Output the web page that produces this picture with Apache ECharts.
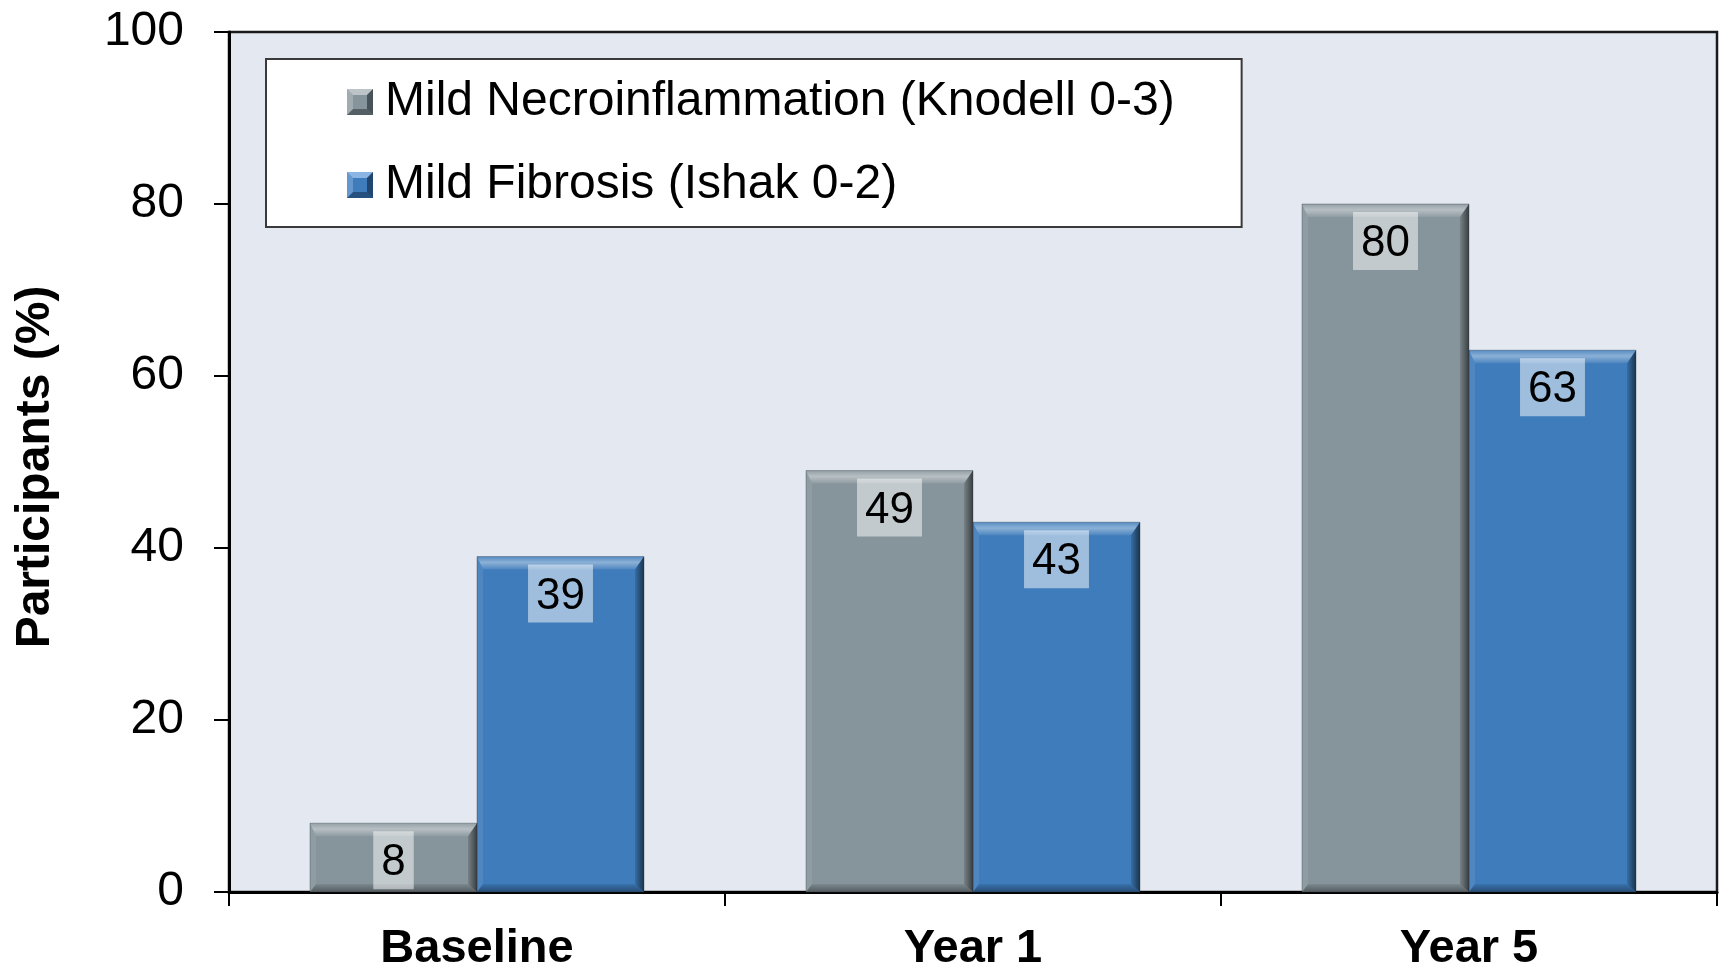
<!DOCTYPE html>
<html>
<head>
<meta charset="utf-8">
<title>Participants with mild necroinflammation and mild fibrosis</title>
<script src="https://cdn.jsdelivr.net/npm/echarts@6/dist/echarts.min.js"></script>
<style>
  html, body { margin: 0; padding: 0; background: #ffffff; }
  #chart { width: 1721px; height: 967px; }
</style>
</head>
<body>
<div id="chart"></div>
<script>
// Time points on the x axis
const categories = ['Baseline', 'Year 1', 'Year 5'];

// Share of participants (%) at each time point
const necroName = 'Mild Necroinflammation (Knodell 0-3)';
const necroValues = [8, 49, 80];
const fibrosisName = 'Mild Fibrosis (Ishak 0-2)';
const fibrosisValues = [39, 43, 63];

// Value axis range
const yMin = 0;
const yMax = 100;
const yStep = 20;

const FONT = "'Liberation Sans', Arial, Helvetica, sans-serif";
const BAR_W = 167;
const GRAY = '#86949b';
const BLUE = '#3e7cbb';

// Small bevelled square used as a legend swatch
function bevelIcon(base, light, dark) {
  const svg =
    '<svg xmlns="http://www.w3.org/2000/svg" width="26" height="26">' +
    '<rect width="26" height="26" fill="' + base + '"/>' +
    '<polygon points="0,0 26,0 20,6 6,6" fill="' + light + '"/>' +
    '<polygon points="26,0 26,26 20,20 20,6" fill="' + dark + '"/>' +
    '<polygon points="0,26 26,26 20,20 6,20" fill="' + dark + '" opacity="0.8"/>' +
    '<polygon points="0,0 6,6 6,20 0,26" fill="' + light + '" opacity="0.5"/>' +
    '</svg>';
  return 'image://data:image/svg+xml;charset=utf-8,' + encodeURIComponent(svg);
}

// Bevelled edges and value tag painted over each bar
function bevelRenderer(side) {
  return function (params, api) {
    const c = api.value(0);
    const v = api.value(1);
    const top = api.coord([c, v]);
    const base = api.coord([c, 0]);
    const x0 = side < 0 ? top[0] - BAR_W : top[0];
    const x1 = x0 + BAR_W;
    const y0 = top[1];
    const y1 = base[1];
    const T = 13, R = 9, B = 8, L = 6;
    const lin = (x, y, x2, y2, stops) => ({
      type: 'linear', x: x, y: y, x2: x2, y2: y2,
      colorStops: stops.map((s) => ({ offset: s[0], color: s[1] }))
    });
    return {
      type: 'group',
      children: [
        {
          type: 'polygon',
          shape: { points: [[x0, y0], [x1, y0], [x1 - R, y0 + T], [x0 + L, y0 + T]] },
          style: { fill: lin(0, 0, 0, 1, [[0, 'rgba(255,255,255,0.12)'], [0.45, 'rgba(255,255,255,0.40)'], [1, 'rgba(255,255,255,0.08)']]) }
        },
        {
          type: 'polygon',
          shape: { points: [[x0, y0], [x0 + L, y0 + T], [x0 + L, y1 - B], [x0, y1]] },
          style: { fill: 'rgba(255,255,255,0.08)' }
        },
        {
          type: 'polygon',
          shape: { points: [[x0, y1], [x1, y1], [x1 - R, y1 - B], [x0 + L, y1 - B]] },
          style: { fill: lin(0, 0, 0, 1, [[0, 'rgba(0,0,0,0.08)'], [1, 'rgba(0,0,0,0.38)']]) }
        },
        {
          type: 'polygon',
          shape: { points: [[x1, y0], [x1, y1], [x1 - R, y1 - B], [x1 - R, y0 + T]] },
          style: { fill: lin(0, 0, 1, 0, [[0, 'rgba(0,0,0,0.12)'], [1, 'rgba(0,0,0,0.58)']]) }
        },
        {
          type: 'rect',
          shape: { x: x0, y: y0, width: BAR_W, height: y1 - y0 },
          style: { fill: 'none', stroke: 'rgba(40,50,60,0.35)', lineWidth: 1 }
        },
        {
          type: 'text',
          style: {
            text: String(v),
            x: (x0 + x1) / 2,
            y: y0 + 8,
            align: 'center',
            verticalAlign: 'top',
            fontSize: 44,
            fontFamily: FONT,
            lineHeight: 46,
            fill: '#000000',
            backgroundColor: 'rgba(255,255,255,0.5)',
            padding: [9, 8, 3, 8]
          }
        }
      ]
    };
  };
}

const chart = echarts.init(document.getElementById('chart'), null, { renderer: 'canvas' });

chart.setOption({
  backgroundColor: '#ffffff',
  animation: false,
  textStyle: { fontFamily: FONT },
  grid: {
    left: 229, right: 4, top: 32, bottom: 75,
    outerBoundsMode: 'none',
    containLabel: false,
    show: true,
    backgroundColor: '#e4e9f1',
    borderColor: '#1a1a1a',
    borderWidth: 2.5
  },
  legend: {
    data: [
      { name: necroName, icon: bevelIcon(GRAY, 'rgba(255,255,255,0.45)', 'rgba(20,30,35,0.55)') },
      { name: fibrosisName, icon: bevelIcon(BLUE, 'rgba(190,220,255,0.6)', 'rgba(10,25,50,0.55)') }
    ],
    orient: 'vertical',
    left: 266,
    top: 59,
    itemWidth: 26,
    itemHeight: 26,
    itemGap: 33,
    padding: [18, 67, 17, 81],
    backgroundColor: '#ffffff',
    borderColor: '#3a3a3a',
    borderWidth: 2,
    textStyle: {
      fontSize: 48,
      lineHeight: 50,
      color: '#000000',
      fontFamily: FONT,
      padding: [0, 0, 0, 7]
    }
  },
  xAxis: {
    type: 'category',
    data: categories,
    axisLine: { lineStyle: { color: '#000000', width: 3 } },
    axisTick: { show: true, length: 14, lineStyle: { color: '#000000', width: 2 } },
    axisLabel: {
      fontSize: 47,
      fontWeight: 'bold',
      color: '#000000',
      fontFamily: FONT,
      margin: 34
    }
  },
  yAxis: {
    type: 'value',
    min: yMin,
    max: yMax,
    interval: yStep,
    name: 'Participants (%)',
    nameLocation: 'middle',
    nameGap: 169,
    nameTextStyle: {
      fontSize: 48,
      fontWeight: 'bold',
      color: '#000000',
      fontFamily: FONT,
      padding: [0, 10, 0, 0]
    },
    axisLine: { show: true, lineStyle: { color: '#000000', width: 3 } },
    axisTick: { show: true, length: 15, lineStyle: { color: '#000000', width: 2 } },
    splitLine: { show: false },
    axisLabel: {
      fontSize: 48,
      color: '#000000',
      fontFamily: FONT,
      margin: 45
    }
  },
  series: [
    {
      name: necroName,
      type: 'bar',
      data: necroValues,
      barWidth: BAR_W,
      barGap: '0%',
      itemStyle: { color: GRAY }
    },
    {
      name: fibrosisName,
      type: 'bar',
      data: fibrosisValues,
      barWidth: BAR_W,
      barGap: '0%',
      itemStyle: { color: BLUE }
    },
    {
      name: 'necroEdges',
      type: 'custom',
      silent: true,
      z: 3,
      encode: { x: 0, y: 1 },
      data: necroValues.map((v, i) => [i, v]),
      renderItem: bevelRenderer(-1)
    },
    {
      name: 'fibrosisEdges',
      type: 'custom',
      silent: true,
      z: 3,
      encode: { x: 0, y: 1 },
      data: fibrosisValues.map((v, i) => [i, v]),
      renderItem: bevelRenderer(1)
    }
  ]
});
</script>
</body>
</html>
